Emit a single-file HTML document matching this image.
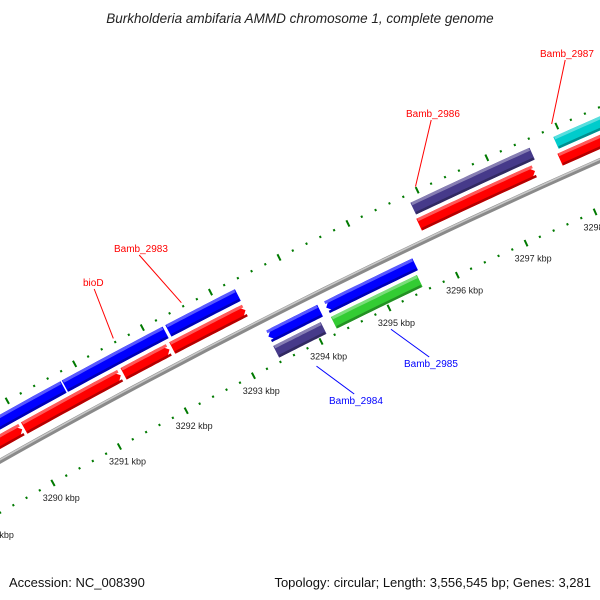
<!DOCTYPE html>
<html><head><meta charset="utf-8"><style>
body{margin:0;background:#fff}
svg{display:block}
text{font-family:"Liberation Sans","DejaVu Sans",sans-serif}
</style></head><body>
<svg id="map" width="600" height="600" viewBox="0 0 600 600" xmlns="http://www.w3.org/2000/svg">
<text x="300" y="23" text-anchor="middle" font-size="13.5" font-style="italic" fill="#222">Burkholderia ambifaria AMMD chromosome 1, complete genome</text>
<text x="9" y="587" font-size="13" fill="#111">Accession: NC_008390</text>
<text x="591" y="587" text-anchor="end" font-size="13" fill="#111">Topology: circular; Length: 3,556,545 bp; Genes: 3,281</text>
<g id="ticks"></g>
<g id="backbone"></g>
<g id="feats"></g>
<g id="labels"></g>
</svg>
<script>
// data (kbp)
const featNames = ["f-left-blue-a","f-left-blue-b","Bamb_2983","Bamb_2986","Bamb_2987","f-red-1","f-red-2","bioD","f-red-4","f-red-2986","f-red-2987","Bamb_2984","Bamb_2985","f-purple-2984","f-green-2985"];
const featStart = [3288.0,3290.75,3292.28,3295.85,3297.90,3288.0,3290.02,3291.50,3292.22,3295.83,3297.86,3293.41,3294.26,3293.41,3294.26];
const featEnd   = [3290.73,3292.24,3293.30,3297.56,3300.0,3289.99,3291.46,3292.18,3293.30,3297.50,3300.0,3294.17,3295.56,3294.11,3295.52];
const featRow   = [2,2,2,2,2,1,1,1,1,1,1,-1,-1,-2,-2];
const featColor = ["#0000ff","#0000ff","#0000ff","#463a8a","#00cccc","#ff0000","#ff0000","#ff0000","#ff0000","#ff0000","#ff0000","#0000ff","#0000ff","#463a8a","#33cc33"];
const featArrow = [0,0,0,0,0,1,1,1,1,1,1,-1,-1,0,0];
const labelText = ["Bamb_2987","Bamb_2986","Bamb_2983","bioD","Bamb_2985","Bamb_2984"];
const labelKbp  = [3297.95,3296.0,3292.6,3291.6,3294.9,3293.8];
const labelColor= ["#ff0000","#ff0000","#ff0000","#ff0000","#0000ff","#0000ff"];
const labelX    = [540,406,114,83,404,329];
const labelY    = [57,117,252,286,367,404];
const tickStartKbp = 3288, tickEndKbp = 3300;

const NS="http://www.w3.org/2000/svg";
const cx=3394, cy=6487, r0=6871;
const thA=Math.atan2(483-cy,53-cx), dth=0.01103;
function P(k,off){const t=thA+(k-3290)*dth, r=r0+off;return [cx+r*Math.cos(t), cy+r*Math.sin(t)];}
const BB=45, rowOff={1:62,2:79,"-1":28,"-2":11}, HALF=6.5;
function el(tag,attrs,parent){const e=document.createElementNS(NS,tag);for(const a in attrs)e.setAttribute(a,attrs[a]);parent.appendChild(e);return e;}
function pts(a){return a.map(p=>p[0].toFixed(1)+","+p[1].toFixed(1)).join(" ");}

// ticks
const tg=document.getElementById('ticks');
for(let i=0;i<=(tickEndKbp-tickStartKbp)*5;i++){
  const k=tickStartKbp+i*0.2, big=(i%5===0);
  [[0,true],[94,false]].forEach(([base,inner])=>{
    const len=big?3.5:1.1;
    const a=P(k,base-len), b=P(k,base+len);
    const ln=el('line',{x1:a[0],y1:a[1],x2:b[0],y2:b[1],stroke:'#007a00','stroke-width':2},tg);
    
    
  });
  if(big){
    const c=P(k,-17);
    const t=el('text',{x:c[0],y:c[1]+3,'text-anchor':'middle','font-size':9,fill:'#222'},tg);
    
    
    t.textContent=Math.round(k)+" kbp";
  }
}
// backbone
const bg=document.getElementById('backbone');
function arc(k1,k2,off){const a=[];const n=40;for(let i=0;i<=n;i++)a.push(P(k1+(k2-k1)*i/n,off));return a;}
[[BB,'#8a8a8a',5],[BB+1.2,'#c8c8c8',1.6]].forEach(([o,c,w])=>{
  const p=el('polyline',{points:pts(arc(3287,3301,o)),fill:'none',stroke:c,'stroke-width':w},bg);
  
  
});
// features
const fg=document.getElementById('feats');
function shade(hex,f){const n=parseInt(hex.slice(1),16);let r=n>>16,g=(n>>8)&255,b=n&255;
  if(f>0){r+= (255-r)*f;g+=(255-g)*f;b+=(255-b)*f;}else{r*=1+f;g*=1+f;b*=1+f;}
  return "rgb("+[r,g,b].map(v=>Math.round(v)).join(",")+")";}
function barPoly(s,e,off,arrow,h1,h2){
  const ah=0.08, n=20, top=[], bot=[];
  let s2=s,e2=e; if(arrow===1)e2=e-ah; if(arrow===-1)s2=s+ah;
  for(let i=0;i<=n;i++){const k=s2+(e2-s2)*i/n;top.push(P(k,off+h2));bot.push(P(k,off+h1));}
  const poly=[...top];
  if(arrow===1)poly.push(P(e,off+(h1+h2)/2*0+0));
  bot.reverse();poly.push(...bot);
  if(arrow===-1)poly.push(P(s,off));
  return poly;
}
for(let i=0;i<featStart.length;i++){
  const off=rowOff[featRow[i]];
  const g=el('g',{},fg);
  
  
  const m=el('polygon',{points:pts(barPoly(featStart[i],featEnd[i],off,featArrow[i],-HALF,HALF)),fill:featColor[i]},g);
  
  
  const hl=el('polygon',{points:pts(barPoly(featStart[i]+0.01,featEnd[i]-0.01,off,0,HALF-3,HALF)),fill:shade(featColor[i],0.35)},g);
  
  
  const dk=el('polygon',{points:pts(barPoly(featStart[i]+0.01,featEnd[i]-0.01,off,0,-HALF,-HALF+2.5)),fill:shade(featColor[i],-0.3)},g);
  
  
}
// labels
const lg=document.getElementById('labels');
for(let i=0;i<labelText.length;i++){
  const outer=labelColor[i]==="#ff0000";
  const a=P(labelKbp[i],outer?98:-20);
  const tw=labelText[i].length*5.6;
  const lx=labelX[i]+tw/2, ly=outer?labelY[i]+3:labelY[i]-10;
  const ln=el('line',{x1:a[0],y1:a[1],x2:lx,y2:ly,stroke:labelColor[i],'stroke-width':1},lg);
  
  
  const t=el('text',{x:labelX[i],y:labelY[i],'font-size':10,fill:labelColor[i]},lg);
  
  
  t.textContent=labelText[i];
}
</script>
</body></html>
